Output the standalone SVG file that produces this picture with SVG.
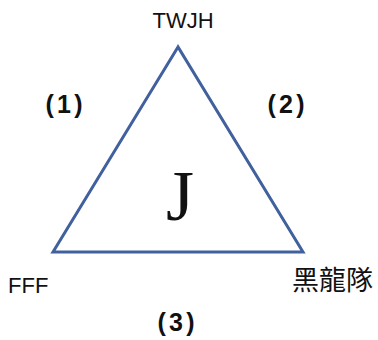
<svg xmlns="http://www.w3.org/2000/svg" width="378" height="340" viewBox="0 0 378 340">
<style>
.lbl{font-family:"Liberation Sans","Noto Sans CJK TC",sans-serif;fill:#111}
.num{font-family:"Liberation Sans",sans-serif;font-weight:bold;font-size:25px;fill:#111}
.edge{fill:none;stroke:#41609e;stroke-width:3;stroke-linejoin:miter}
</style>
<rect width="378" height="340" fill="#fff"/>
<g id="connectors">
<polygon class="edge" points="178,47 53,252 303,252"/>
</g>
<g id="node-twjh"><text class="lbl" x="183" y="28" font-size="22" text-anchor="middle">TWJH</text></g>
<g id="node-fff"><text class="lbl" x="8" y="293" font-size="22">FFF</text></g>
<g id="node-heilongdui"><text class="lbl" x="292" y="290" font-size="27">黑龍隊</text></g>
<g id="node-j"><text x="180" y="220" font-family="Liberation Serif,serif" font-size="72" fill="#111" text-anchor="middle">J</text></g>
<g id="label-1"><text class="num" x="64" y="113" text-anchor="middle" textLength="37">(1)</text></g>
<g id="label-2"><text class="num" x="286" y="113" text-anchor="middle" textLength="37">(2)</text></g>
<g id="label-3"><text class="num" x="176" y="331" text-anchor="middle" textLength="37">(3)</text></g>
</svg>
